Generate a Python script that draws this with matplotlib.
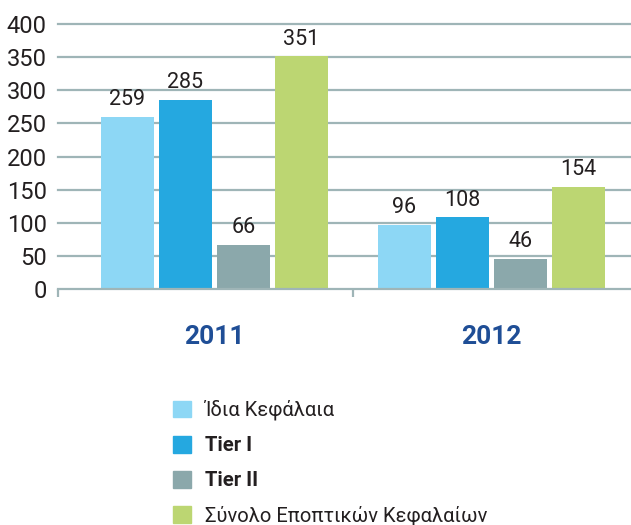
import matplotlib.pyplot as plt
from matplotlib.patches import Patch
import numpy as np

# данные
years = ["2011", "2012"]
series = ["Ίδια Κεφάλαια", "Tier I", "Tier II", "Σύνολο Εποπτικών Κεφαλαίων"]
idia = [259, 96]
tier1 = [285, 108]
tier2 = [66, 46]
synolo = [351, 154]
yticks = [0, 50, 100, 150, 200, 250, 300, 350, 400]

colors = ["#8dd7f5", "#25a8e0", "#8ba8ab", "#bcd672"]
grid_c = "#9fb5b7"
text_c = "#231f20"

plt.rcParams['font.family'] = ['Roboto', 'DejaVu Sans']

fig = plt.figure(figsize=(6.31, 5.25), dpi=100)
ax = fig.add_axes([58 / 631, 1 - 289 / 525, 1 - 58 / 631, (289 - 24) / 525])

x = np.arange(len(years))
step = 0.2094
width = 0.1913
values = [idia, tier1, tier2, synolo]
for i, vals in enumerate(values):
    pos = x + (i - 1.5) * step
    bars = ax.bar(pos, vals, width=width, color=colors[i], zorder=3)
    for b, v in zip(bars, vals):
        ax.annotate(str(v), (b.get_x() + b.get_width() / 2, v),
                    xytext=(0, 5), textcoords="offset points",
                    ha="center", va="bottom", fontsize=15.5, color=text_c)

ax.set_xlim(-0.565, 1.504)
ax.set_ylim(0, 400)
ax.set_yticks(yticks)
ax.tick_params(axis="y", length=0, pad=8, labelsize=17, labelcolor=text_c)
for y in yticks[1:]:
    ax.axhline(y, color=grid_c, linewidth=1.6, zorder=1, clip_on=False)

ax.set_xticks([-0.565, 0.5])
ax.set_xticklabels(["", ""])
ax.tick_params(axis="x", which="major", direction="out", length=6, width=1.6, color=grid_c)
ax.set_xticks(x, minor=True)
ax.set_xticklabels(years, minor=True, fontsize=19, fontweight="bold", color="#1f4e96")
ax.tick_params(axis="x", which="minor", length=0, pad=26)

for s in ["top", "right", "left"]:
    ax.spines[s].set_visible(False)
ax.spines["bottom"].set_color(grid_c)
ax.spines["bottom"].set_linewidth(1.6)
ax.spines["bottom"].set_zorder(4)

handles = [Patch(color=c) for c in colors]
leg = fig.legend(handles, series, loc="upper left",
                 bbox_to_anchor=(173 / 631, 1 - 400 / 525),
                 frameon=False, fontsize=14.5, borderpad=0, borderaxespad=0,
                 handlelength=0.9, handleheight=0.9, handletextpad=0.7,
                 labelspacing=0.77)
for t in leg.get_texts():
    t.set_color(text_c)
    if t.get_text().startswith("Tier"):
        t.set_fontweight("bold")

fig.savefig("out.png", dpi=100)
